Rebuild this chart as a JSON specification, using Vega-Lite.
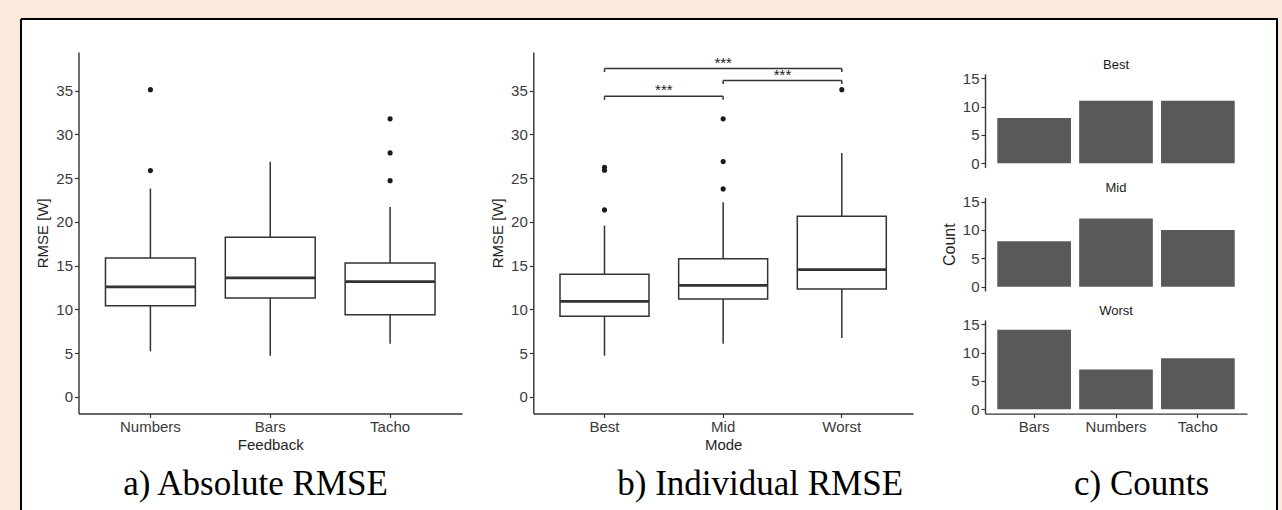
{
  "$schema": "https://vega.github.io/schema/vega-lite/v6.json",
  "width": 1256,
  "height": 491,
  "autosize": {"type": "none"},
  "padding": {"left": 21, "top": 19, "right": 5, "bottom": 0},
  "background": "#fbe9dc",
  "config": {
    "view": {"fill": "white", "stroke": "black", "strokeWidth": 2, "strokeDash": [1747, 1256, 491, 0]},
    "axis": {
      "grid": false,
      "labelFont": "Liberation Sans",
      "labelFontSize": 15,
      "labelColor": "#3a3a3a",
      "labelPadding": 2,
      "titleFont": "Liberation Sans",
      "titleFontSize": 15,
      "titleFontWeight": "normal",
      "titleColor": "#1f1f1f",
      "domainColor": "#333333",
      "domainWidth": 1.4,
      "tickColor": "#333333",
      "tickWidth": 1.2,
      "tickSize": 4,
      "labelAngle": 0
    },
    "text": {"font": "Liberation Sans"}
  },
  "datasets": {
    "boxA": [
      {"feedback": "Numbers", "lower": 5.2, "q1": 10.42, "median": 12.56, "q3": 15.87, "upper": 23.8},
      {"feedback": "Bars", "lower": 4.71, "q1": 11.3, "median": 13.59, "q3": 18.23, "upper": 26.85},
      {"feedback": "Tacho", "lower": 6.08, "q1": 9.39, "median": 13.17, "q3": 15.3, "upper": 21.7}
    ],
    "outA": [
      {"feedback": "Numbers", "rmse": 25.85},
      {"feedback": "Numbers", "rmse": 35.1},
      {"feedback": "Tacho", "rmse": 24.7},
      {"feedback": "Tacho", "rmse": 27.87},
      {"feedback": "Tacho", "rmse": 31.76}
    ],
    "boxB": [
      {"mode": "Best", "lower": 4.71, "q1": 9.2, "median": 10.91, "q3": 14.0, "upper": 19.57},
      {"mode": "Mid", "lower": 6.08, "q1": 11.19, "median": 12.74, "q3": 15.79, "upper": 22.23},
      {"mode": "Worst", "lower": 6.73, "q1": 12.33, "median": 14.54, "q3": 20.63, "upper": 27.87}
    ],
    "outB": [
      {"mode": "Best", "rmse": 21.36},
      {"mode": "Best", "rmse": 25.89},
      {"mode": "Best", "rmse": 26.23},
      {"mode": "Mid", "rmse": 23.76},
      {"mode": "Mid", "rmse": 26.88},
      {"mode": "Mid", "rmse": 31.76},
      {"mode": "Worst", "rmse": 35.1}
    ],
    "sig": [
      {"from": "Best", "to": "Mid", "y": 34.34, "tip": 33.94, "label": "***", "span": 1},
      {"from": "Mid", "to": "Worst", "y": 36.14, "tip": 35.74, "label": "***", "span": 1},
      {"from": "Best", "to": "Worst", "y": 37.51, "tip": 37.11, "label": "***", "span": 2}
    ],
    "counts": [
      {"mode": "Best", "feedback": "Bars", "count": 8},
      {"mode": "Best", "feedback": "Numbers", "count": 11},
      {"mode": "Best", "feedback": "Tacho", "count": 11},
      {"mode": "Mid", "feedback": "Bars", "count": 8},
      {"mode": "Mid", "feedback": "Numbers", "count": 12},
      {"mode": "Mid", "feedback": "Tacho", "count": 10},
      {"mode": "Worst", "feedback": "Bars", "count": 14},
      {"mode": "Worst", "feedback": "Numbers", "count": 7},
      {"mode": "Worst", "feedback": "Tacho", "count": 9}
    ],
    "captions": [
      {"panel": "a", "caption": "a) Absolute RMSE"},
      {"panel": "b", "caption": "b) Individual RMSE"},
      {"panel": "c", "caption": "c) Counts"}
    ],
    "strips": [
      {"mode": "Best"},
      {"mode": "Mid"},
      {"mode": "Worst"}
    ]
  },
  "layer": [
    {
      "resolve": {"scale": {"x": "shared", "y": "shared"}, "axis": {"x": "shared", "y": "shared"}},
      "layer": [
        {
          "data": {"name": "boxA"},
          "mark": {"type": "rule", "color": "#333333", "strokeWidth": 1.5},
          "encoding": {
            "x": {
              "field": "feedback", "type": "nominal", "sort": ["Numbers", "Bars", "Tacho"],
              "scale": {"type": "band", "domain": ["Numbers", "Bars", "Tacho"], "range": [57.5, 441], "paddingInner": 0.25, "paddingOuter": 0.225},
              "axis": {"orient": "bottom", "offset": -96.5, "title": "Feedback", "titlePadding": 3}
            },
            "y": {
              "field": "lower", "type": "quantitative",
              "scale": {"domain": [-1.9, 39.4], "range": [394.5, 33], "nice": false, "zero": false},
              "axis": {"orient": "left", "offset": -57.5, "title": "RMSE [W]", "values": [0, 5, 10, 15, 20, 25, 30, 35], "titlePadding": 5}
            },
            "y2": {"field": "upper"}
          }
        },
        {
          "data": {"name": "boxA"},
          "mark": {"type": "bar", "fill": "white", "stroke": "#333333", "strokeWidth": 1.5},
          "encoding": {
            "x": {"field": "feedback", "type": "nominal"},
            "y": {"field": "q1", "type": "quantitative"},
            "y2": {"field": "q3"}
          }
        },
        {
          "data": {"name": "boxA"},
          "mark": {"type": "bar", "fill": "#333333", "stroke": "#333333", "strokeWidth": 2.8},
          "encoding": {
            "x": {"field": "feedback", "type": "nominal"},
            "y": {"field": "median", "type": "quantitative"},
            "y2": {"field": "median"}
          }
        },
        {
          "data": {"name": "outA"},
          "mark": {"type": "point", "filled": true, "color": "#1a1a1a", "size": 26, "opacity": 1},
          "encoding": {
            "x": {"field": "feedback", "type": "nominal"},
            "y": {"field": "rmse", "type": "quantitative"}
          }
        },
        {
          "data": {"name": "captions"},
          "transform": [{"filter": "datum.panel === 'a'"}],
          "mark": {"type": "text", "font": "Liberation Serif", "fontSize": 35, "color": "black", "baseline": "alphabetic", "align": "center", "dx": -14.7},
          "encoding": {
            "x": {"datum": "Bars", "type": "nominal"},
            "y": {"datum": -11.18, "type": "quantitative"},
            "text": {"field": "caption"}
          }
        }
      ]
    },
    {
      "resolve": {"scale": {"x": "shared", "y": "shared"}, "axis": {"x": "shared", "y": "shared"}},
      "layer": [
        {
          "data": {"name": "boxB"},
          "mark": {"type": "rule", "color": "#333333", "strokeWidth": 1.5},
          "encoding": {
            "x": {
              "field": "mode", "type": "nominal", "sort": ["Best", "Mid", "Worst"],
              "scale": {"type": "band", "domain": ["Best", "Mid", "Worst"], "range": [512.3, 892], "paddingInner": 0.25, "paddingOuter": 0.225},
              "axis": {"orient": "bottom", "offset": -96.5, "title": "Mode", "titlePadding": 3}
            },
            "y": {
              "field": "lower", "type": "quantitative",
              "scale": {"domain": [-1.9, 39.4], "range": [394.5, 33], "nice": false, "zero": false},
              "axis": {"orient": "left", "offset": -512.3, "title": "RMSE [W]", "values": [0, 5, 10, 15, 20, 25, 30, 35], "titlePadding": 5}
            },
            "y2": {"field": "upper"}
          }
        },
        {
          "data": {"name": "boxB"},
          "mark": {"type": "bar", "fill": "white", "stroke": "#333333", "strokeWidth": 1.5},
          "encoding": {
            "x": {"field": "mode", "type": "nominal"},
            "y": {"field": "q1", "type": "quantitative"},
            "y2": {"field": "q3"}
          }
        },
        {
          "data": {"name": "boxB"},
          "mark": {"type": "bar", "fill": "#333333", "stroke": "#333333", "strokeWidth": 2.8},
          "encoding": {
            "x": {"field": "mode", "type": "nominal"},
            "y": {"field": "median", "type": "quantitative"},
            "y2": {"field": "median"}
          }
        },
        {
          "data": {"name": "outB"},
          "mark": {"type": "point", "filled": true, "color": "#1a1a1a", "size": 26, "opacity": 1},
          "encoding": {
            "x": {"field": "mode", "type": "nominal"},
            "y": {"field": "rmse", "type": "quantitative"}
          }
        },
        {
          "data": {"name": "sig"},
          "mark": {"type": "rule", "color": "#333333", "strokeWidth": 1.5},
          "encoding": {
            "x": {"field": "from", "type": "nominal"},
            "x2": {"field": "to"},
            "y": {"field": "y", "type": "quantitative"}
          }
        },
        {
          "data": {"name": "sig"},
          "mark": {"type": "rule", "color": "#333333", "strokeWidth": 1.5},
          "encoding": {
            "x": {"field": "from", "type": "nominal"},
            "y": {"field": "y", "type": "quantitative"},
            "y2": {"field": "tip"}
          }
        },
        {
          "data": {"name": "sig"},
          "mark": {"type": "rule", "color": "#333333", "strokeWidth": 1.5},
          "encoding": {
            "x": {"field": "to", "type": "nominal"},
            "y": {"field": "y", "type": "quantitative"},
            "y2": {"field": "tip"}
          }
        },
        {
          "data": {"name": "sig"},
          "transform": [{"filter": "datum.span === 1"}],
          "mark": {"type": "text", "fontSize": 15, "color": "#1a1a1a", "baseline": "alphabetic", "align": "center", "dy": -1},
          "encoding": {
            "x": {"field": "from", "type": "nominal", "bandPosition": 1.1667},
            "y": {"field": "y", "type": "quantitative"},
            "text": {"field": "label"}
          }
        },
        {
          "data": {"name": "sig"},
          "transform": [{"filter": "datum.span === 2"}],
          "mark": {"type": "text", "fontSize": 15, "color": "#1a1a1a", "baseline": "alphabetic", "align": "center", "dy": -1},
          "encoding": {
            "x": {"field": "from", "type": "nominal", "bandPosition": 1.8333},
            "y": {"field": "y", "type": "quantitative"},
            "text": {"field": "label"}
          }
        },
        {
          "data": {"name": "captions"},
          "transform": [{"filter": "datum.panel === 'b'"}],
          "mark": {"type": "text", "font": "Liberation Serif", "fontSize": 35, "color": "black", "baseline": "alphabetic", "align": "center", "dx": 37},
          "encoding": {
            "x": {"datum": "Mid", "type": "nominal"},
            "y": {"datum": -11.18, "type": "quantitative"},
            "text": {"field": "caption"}
          }
        }
      ]
    },
    {
      "resolve": {"scale": {"x": "shared", "y": "shared"}, "axis": {"x": "shared", "y": "shared"}},
      "layer": [
        {
          "data": {"name": "counts"},
          "transform": [{"filter": "datum.mode === 'Best'"}],
          "mark": {"type": "bar", "color": "#595959"},
          "encoding": {
            "x": {
              "field": "feedback", "type": "nominal",
              "scale": {"type": "band", "domain": ["Bars", "Numbers", "Tacho"], "range": [964, 1226], "paddingInner": 0.1, "paddingOuter": 0.15},
              "axis": null
            },
            "y": {
              "field": "count", "type": "quantitative",
              "scale": {"domain": [-0.75, 15.75], "range": [148.6, 54.9], "nice": false, "zero": false},
              "axis": {"orient": "left", "offset": -964, "title": null, "values": [0, 5, 10, 15]}
            },
            "y2": {"datum": 0}
          }
        },
        {
          "data": {"name": "strips"},
          "transform": [{"filter": "datum.mode === 'Best'"}],
          "mark": {"type": "text", "fontSize": 13, "color": "#1a1a1a", "baseline": "alphabetic", "align": "center"},
          "encoding": {
            "x": {"datum": "Numbers", "type": "nominal"},
            "y": {"datum": 16.7, "type": "quantitative"},
            "text": {"field": "mode"}
          }
        }
      ]
    },
    {
      "resolve": {"scale": {"x": "shared", "y": "shared"}, "axis": {"x": "shared", "y": "shared"}},
      "layer": [
        {
          "data": {"name": "counts"},
          "transform": [{"filter": "datum.mode === 'Mid'"}],
          "mark": {"type": "bar", "color": "#595959"},
          "encoding": {
            "x": {
              "field": "feedback", "type": "nominal",
              "scale": {"type": "band", "domain": ["Bars", "Numbers", "Tacho"], "range": [964, 1226], "paddingInner": 0.1, "paddingOuter": 0.15},
              "axis": null
            },
            "y": {
              "field": "count", "type": "quantitative",
              "scale": {"domain": [-0.75, 15.75], "range": [272, 178.3], "nice": false, "zero": false},
              "axis": {"orient": "left", "offset": -964, "title": "Count", "titleFontSize": 16, "titlePadding": 5, "values": [0, 5, 10, 15]}
            },
            "y2": {"datum": 0}
          }
        },
        {
          "data": {"name": "strips"},
          "transform": [{"filter": "datum.mode === 'Mid'"}],
          "mark": {"type": "text", "fontSize": 13, "color": "#1a1a1a", "baseline": "alphabetic", "align": "center"},
          "encoding": {
            "x": {"datum": "Numbers", "type": "nominal"},
            "y": {"datum": 16.7, "type": "quantitative"},
            "text": {"field": "mode"}
          }
        }
      ]
    },
    {
      "resolve": {"scale": {"x": "shared", "y": "shared"}, "axis": {"x": "shared", "y": "shared"}},
      "layer": [
        {
          "data": {"name": "counts"},
          "transform": [{"filter": "datum.mode === 'Worst'"}],
          "mark": {"type": "bar", "color": "#595959"},
          "encoding": {
            "x": {
              "field": "feedback", "type": "nominal",
              "scale": {"type": "band", "domain": ["Bars", "Numbers", "Tacho"], "range": [964, 1226], "paddingInner": 0.1, "paddingOuter": 0.15},
              "axis": {"orient": "bottom", "offset": -96.4, "title": null}
            },
            "y": {
              "field": "count", "type": "quantitative",
              "scale": {"domain": [-0.75, 15.75], "range": [394.6, 300.9], "nice": false, "zero": false},
              "axis": {"orient": "left", "offset": -964, "title": null, "values": [0, 5, 10, 15]}
            },
            "y2": {"datum": 0}
          }
        },
        {
          "data": {"name": "strips"},
          "transform": [{"filter": "datum.mode === 'Worst'"}],
          "mark": {"type": "text", "fontSize": 13, "color": "#1a1a1a", "baseline": "alphabetic", "align": "center"},
          "encoding": {
            "x": {"datum": "Numbers", "type": "nominal"},
            "y": {"datum": 16.7, "type": "quantitative"},
            "text": {"field": "mode"}
          }
        },
        {
          "data": {"name": "captions"},
          "transform": [{"filter": "datum.panel === 'c'"}],
          "mark": {"type": "text", "font": "Liberation Serif", "fontSize": 35, "color": "black", "baseline": "alphabetic", "align": "center", "dx": 25.6},
          "encoding": {
            "x": {"datum": "Numbers", "type": "nominal"},
            "y": {"datum": -15.09, "type": "quantitative"},
            "text": {"field": "caption"}
          }
        }
      ]
    }
  ],
  "resolve": {
    "scale": {"x": "independent", "y": "independent"},
    "axis": {"x": "independent", "y": "independent"}
  }
}
